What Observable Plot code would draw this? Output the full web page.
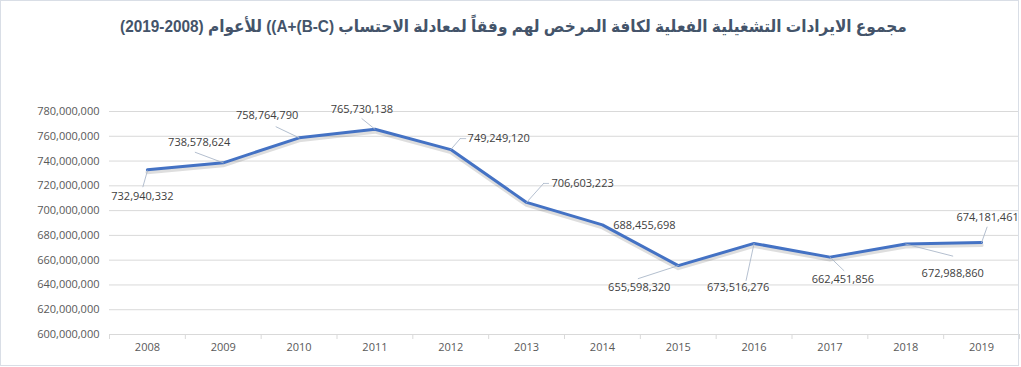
<!DOCTYPE html>
<html>
<head>
<meta charset="utf-8">
<script src="https://cdn.jsdelivr.net/npm/d3@7"></script>
<script src="https://cdn.jsdelivr.net/npm/@observablehq/plot@0.6"></script>
<style>
  html, body { margin: 0; padding: 0; background: #ffffff; }
  #wrap { position: relative; width: 1021px; height: 367px; overflow: hidden; }
  #frame { position: absolute; left: 0; top: 0; width: 1019px; height: 366px; box-sizing: border-box; border: 1px solid #d9dee6; pointer-events: none; }
  #title { position: absolute; left: 0; top: 2px; width: 1027px; height: 48px; line-height: 48px; text-align: center;
           font-family: "Liberation Sans", "DejaVu Sans", sans-serif; font-weight: bold; font-size: 16.5px; color: #44546a;
           white-space: nowrap; transform: scaleX(0.93); transform-origin: 513px 24px; }
  #chart { position: absolute; left: 0; top: 48px; }
</style>
</head>
<body>
<div id="wrap">
  <div id="title" dir="rtl">مجموع الايرادات التشغيلية الفعلية لكافة المرخص لهم وفقاً لمعادلة الاحتساب <bdi dir="ltr">((A+(B-C)</bdi> للأعوام <bdi dir="ltr">(2019-2008)</bdi></div>
  <div id="chart"></div>
  <div id="frame"></div>
</div>
<script>
// ---- data ----
const years = [2008, 2009, 2010, 2011, 2012, 2013, 2014, 2015, 2016, 2017, 2018, 2019];
const revenues = [732940332, 738578624, 758764790, 765730138, 749249120, 706603223,
                  688455698, 655598320, 673516276, 662451856, 672988860, 674181461];
const yTicks = [600e6, 620e6, 640e6, 660e6, 680e6, 700e6, 720e6, 740e6, 760e6, 780e6];

// ---- label layout (pixel offsets from each point) ----
const labelOffsets = [[-5, 27], [-24, -20], [-32, -22], [-13, -20], [48, -11], [56, -19],
                      [42, 1], [-39, 22], [-16, 44], [13, 22], [47, 29], [6, -25]];
const leaderPaths = [
  [[0, 1], [-4.5, 17]],
  [[0, 0], [-28, -10.5]],
  [[0, 0], [-23, -11]],
  [[0, 0], [-13, -10.5]],
  [[0, 0], [9.5, -11], [15, -11]],
  [[0, 0], [17, -19], [22, -19]],
  [],
  [[0, 0], [-40, 13]],
  [[0, 0], [-8, 37]],
  [[0, 0], [14, 13.5]],
  [[0, 0], [47, 12]],
  [[0, 0], [5.5, -15.5]]
];

const rows = years.map((year, i) => ({year, value: revenues[i]}));
const boundaries = years.map(y => y - 0.5).concat([years[years.length - 1] + 0.5]);
const fmt = d3.format(",");

const lineShape = {draw(context, l) { context.moveTo(0, 0); context.lineTo(0, -l); }};

const leaderMarks = [];
rows.forEach((row, i) => {
  const path = leaderPaths[i];
  for (let k = 0; k + 1 < path.length; k++) {
    const [sx, sy] = path[k];
    const [ex, ey] = path[k + 1];
    const len = Math.hypot(ex - sx, ey - sy);
    const rot = Math.atan2(ex - sx, -(ey - sy)) * 180 / Math.PI;
    leaderMarks.push(Plot.vector([row], {
      x: "year", y: "value", dx: sx, dy: sy, length: len, rotate: rot,
      anchor: "start", shape: lineShape, stroke: "#a9b6c8", strokeWidth: 0.8
    }));
  }
});

const labelMarks = rows.map((row, i) => Plot.text([row], {
  x: "year", y: "value", text: d => fmt(d.value),
  dx: labelOffsets[i][0], dy: labelOffsets[i][1],
  fill: "#404040", fontSize: 11
}));

const chart = Plot.plot({
  width: 1021,
  height: 319,
  marginLeft: 109,
  marginRight: 2,
  marginTop: 63,
  marginBottom: 33,
  x: {type: "linear", domain: [2007.5, 2019.5]},
  y: {domain: [600e6, 780e6]},
  style: {fontFamily: "'Open Sans', sans-serif", fontSize: "11px", color: "#595959", background: "transparent", overflow: "visible"},
  marks: [
    Plot.gridY(yTicks, {stroke: "#d9d9d9", strokeOpacity: 1}),
    Plot.axisY({ticks: yTicks, tickFormat: fmt, tickSize: 0, tickPadding: 10, fill: "#595959", label: null}),
    Plot.axisX({ticks: boundaries, tickFormat: () => "", tickSize: 5, stroke: "#d9d9d9", label: null}),
    Plot.axisX({ticks: years, tickFormat: d => String(d), tickSize: 0, tickPadding: 9, fill: "#595959", label: null}),
    Plot.line(rows, {x: "year", y: "value", stroke: "#000000", strokeOpacity: 0.13, strokeWidth: 4, dy: 2.5}),
    Plot.line(rows, {x: "year", y: "value", stroke: "#4472c4", strokeWidth: 3}),
    ...leaderMarks,
    ...labelMarks
  ]
});
document.getElementById("chart").appendChild(chart);
</script>
</body>
</html>
